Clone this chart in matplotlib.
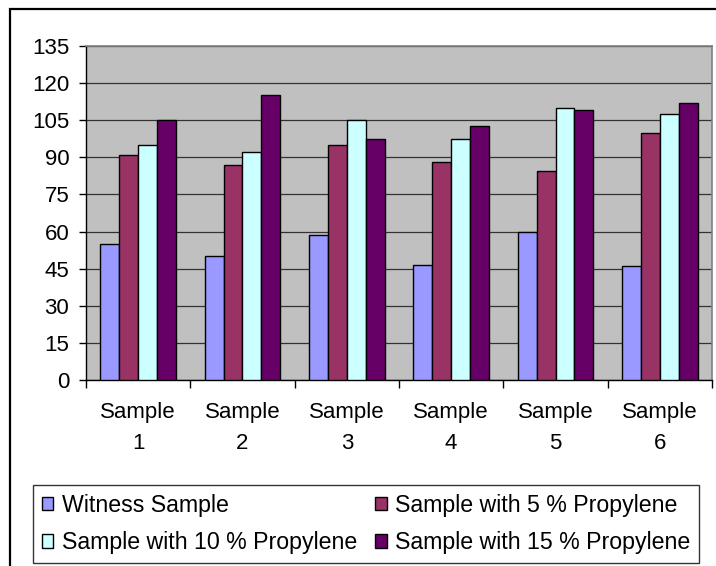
import numpy as np
import matplotlib.pyplot as plt
from matplotlib.patches import Rectangle

plt.rcParams['font.family'] = ['Liberation Sans', 'DejaVu Sans']

samples = ["Sample\n1", "Sample\n2", "Sample\n3", "Sample\n4", "Sample\n5", "Sample\n6"]
witness = [55, 50, 58.5, 46.5, 60, 46]
propylene_5 = [91, 87, 95, 88, 84.5, 100]
propylene_10 = [95, 92, 105, 97.5, 110, 107.5]
propylene_15 = [105, 115, 97.5, 102.5, 109, 112]

series = [
    ("Witness Sample", witness, "#9999FF"),
    ("Sample with 5 % Propylene", propylene_5, "#993366"),
    ("Sample with 10 % Propylene", propylene_10, "#CCFFFF"),
    ("Sample with 15 % Propylene", propylene_15, "#660066"),
]

FS = 16
W, H = 716, 566
fig = plt.figure(figsize=(W / 100, H / 100), dpi=100)

# outer chart frame (runs off the right and bottom edges)
fig.patches.append(Rectangle((10 / W, -0.1), 1.2, 1 - 9 / H + 0.1,
                             transform=fig.transFigure, fill=False,
                             edgecolor="black", linewidth=1.6, zorder=0))

ax = fig.add_axes([86 / W, (H - 380) / H, 626 / W, 334 / H])
ax.set_facecolor("#C0C0C0")

x = np.arange(len(samples))
bw = 1 / 5.5
bars = []
for j, (label, vals, color) in enumerate(series):
    bars.append(ax.bar(x + (j - 1.5) * bw, vals, width=bw, color=color,
                       edgecolor="black", linewidth=1.0, label=label, zorder=3))

ax.set_xlim(-0.5, len(samples) - 0.5)
ax.set_ylim(0, 135)
ax.set_yticks(np.arange(0, 136, 15))
ax.yaxis.grid(True, color="#333333", linewidth=0.9, zorder=1)
ax.set_axisbelow(True)

# ticks at category boundaries, labels at centres
ax.set_xticks(np.arange(-0.5, len(samples)), labels=[""] * (len(samples) + 1))
ax.set_xticks(x, labels=samples, minor=True)
ax.tick_params(axis="x", which="major", length=6, width=1, direction="out")
ax.tick_params(axis="x", which="minor", length=0, pad=16, labelsize=FS)
ax.tick_params(axis="y", length=5, width=1, pad=7, labelsize=FS)
for lbl in ax.get_xticklabels(minor=True):
    lbl.set_linespacing(1.6)

for side in ("top", "right"):
    ax.spines[side].set_color("#808080")
    ax.spines[side].set_linewidth(1.2)
for side in ("left", "bottom"):
    ax.spines[side].set_color("black")
    ax.spines[side].set_linewidth(1.0)

# legend reads row by row, so feed it column-major
order = [0, 2, 1, 3]
leg = fig.legend([bars[i] for i in order], [series[i][0] for i in order],
                 loc="upper left", ncol=2,
                 bbox_to_anchor=(33 / W, 1 - 485 / H),
                 fontsize=16.7, frameon=True, fancybox=False,
                 handlelength=0.5, handleheight=0.5, handletextpad=0.35,
                 borderaxespad=0, borderpad=0.38, labelspacing=0.62,
                 columnspacing=0.8)
leg.get_frame().set_edgecolor("black")
leg.get_frame().set_linewidth(1.0)

fig.savefig("out.png", dpi=100)
